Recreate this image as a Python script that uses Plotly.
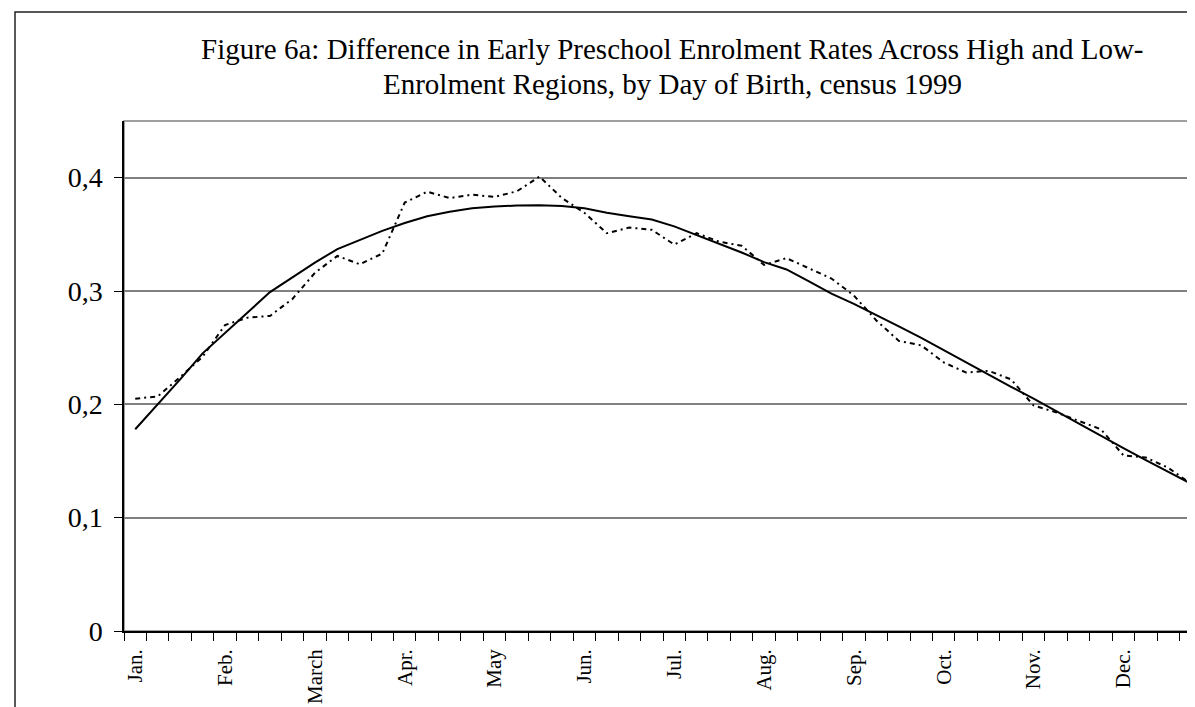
import plotly.graph_objects as go

# 48 positions: four per month, January to December
months = ["Jan.", "Feb.", "March", "Apr.", "May", "Jun.", "Jul.", "Aug.", "Sep.", "Oct.", "Nov.", "Dec."]
month_pos = [0.5 + 4 * i for i in range(12)]
x_pos = [i + 0.5 for i in range(48)]

# smoothed difference (solid line)
smooth = [0.178, 0.200, 0.222, 0.245, 0.263, 0.281, 0.299, 0.312, 0.325, 0.337,
          0.345, 0.353, 0.360, 0.366, 0.370, 0.373, 0.3745, 0.3755, 0.3757, 0.375,
          0.373, 0.369, 0.366, 0.363, 0.357, 0.3495, 0.342, 0.334, 0.3255, 0.319,
          0.3085, 0.2977, 0.2886, 0.279, 0.2687, 0.2587, 0.2478, 0.237, 0.226, 0.2155,
          0.205, 0.194, 0.183, 0.1718, 0.1614, 0.1507, 0.1405, 0.130]

# raw difference (dash-dot line)
raw = [0.205, 0.207, 0.224, 0.242, 0.270, 0.2765, 0.278, 0.293, 0.316, 0.331,
       0.3236, 0.333, 0.378, 0.3876, 0.382, 0.385, 0.383, 0.388, 0.401, 0.382,
       0.369, 0.351, 0.356, 0.354, 0.341, 0.351, 0.3435, 0.340, 0.323, 0.329,
       0.320, 0.311, 0.296, 0.274, 0.256, 0.252, 0.237, 0.228, 0.2296, 0.222,
       0.199, 0.193, 0.1855, 0.178, 0.155, 0.153, 0.144, 0.130]

y_ticks = [0, 0.1, 0.2, 0.3, 0.4]
y_labels = ["0", "0,1", "0,2", "0,3", "0,4"]

title_line1 = "Figure 6a: Difference in Early Preschool Enrolment Rates Across High and Low-"
title_line2 = "Enrolment Regions, by Day of Birth, census 1999"

FONT = "Liberation Serif, Times New Roman, serif"

fig = go.Figure()
fig.add_trace(go.Scatter(x=x_pos, y=raw, mode="lines",
                         line=dict(color="black", width=2, dash="5px,4px,2px,4px"),
                         showlegend=False, hoverinfo="skip"))
fig.add_trace(go.Scatter(x=x_pos, y=smooth, mode="lines",
                         line=dict(color="black", width=2),
                         showlegend=False, hoverinfo="skip"))

fig.update_layout(
    width=1195, height=707, autosize=False,
    margin=dict(l=116, r=1, t=113, b=84),
    paper_bgcolor="white", plot_bgcolor="white",
    font=dict(family=FONT, color="black"),
    xaxis=dict(range=[0, 48], tickmode="array", tickvals=month_pos, ticktext=months,
               tickangle=-90, ticks="", showgrid=False, zeroline=False,
               showline=True, linecolor="black", linewidth=1.5,
               tickfont=dict(family=FONT, size=21, color="black"),
               ticklabelstandoff=8,
               minor=dict(ticks="outside", ticklen=8, tickwidth=1, tickcolor="black",
                          dtick=1, tick0=0, showgrid=False)),
    yaxis=dict(range=[0, 0.45], tickmode="array", tickvals=y_ticks, ticktext=y_labels,
               ticks="outside", ticklen=8, tickwidth=1, tickcolor="black",
               showgrid=True, gridcolor="#808080", gridwidth=1.5, zeroline=False,
               showline=True, linecolor="black", linewidth=1.5,
               tickfont=dict(family=FONT, size=28, color="black"),
               ticklabelstandoff=6),
    shapes=[
        dict(type="rect", xref="paper", yref="paper", x0=0, x1=1, y0=0, y1=1,
             line=dict(color="#808080", width=1.5), layer="below"),
        dict(type="rect", xref="paper", yref="paper", x0=-0.1011, x1=1.02, y0=-0.3, y1=(623 - 4) / 510,
             line=dict(color="#222222", width=1.5), layer="below"),
    ],
    annotations=[
        dict(text=title_line1, xref="paper", yref="paper", x=0.509, y=(623 - 41) / 510,
             xanchor="center", yanchor="middle", showarrow=False,
             font=dict(family=FONT, size=29, color="black")),
        dict(text=title_line2, xref="paper", yref="paper", x=0.509, y=(623 - 76) / 510,
             xanchor="center", yanchor="middle", showarrow=False,
             font=dict(family=FONT, size=29, color="black")),
    ],
)

fig.write_html("out.html")
